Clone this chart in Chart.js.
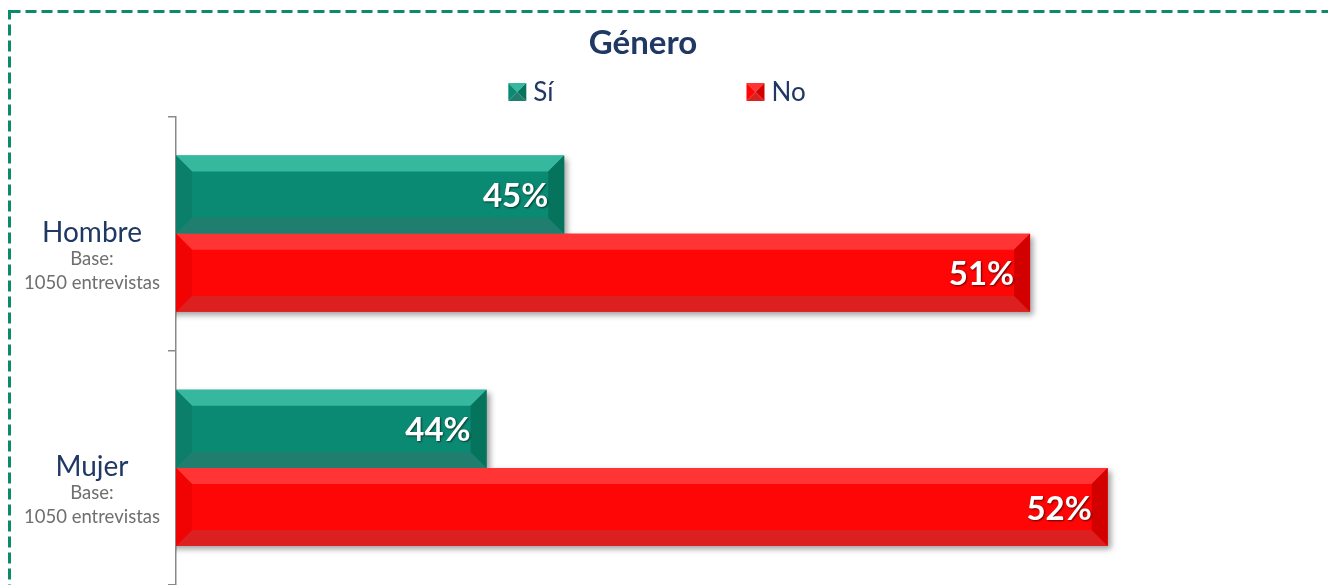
<!DOCTYPE html>
<html>
<head>
<meta charset="utf-8">
<script src="https://cdn.jsdelivr.net/npm/chart.js@4.4.0/dist/chart.umd.min.js"></script>
<style>
  html, body { margin: 0; padding: 0; background: #fff; overflow: hidden; }
  #marco { position: absolute; left: 0; top: 0; width: 1360px; height: 620px; }
</style>
</head>
<body>
<div id="marco"><canvas id="grafica" width="1360" height="620"></canvas></div>
<script>
  // datos
  const titulo = 'Género';
  const categorias = ['Hombre', 'Mujer'];
  const bases = ['1050 entrevistas', '1050 entrevistas'];
  const series = ['Sí', 'No'];
  const valoresSi = [45, 44];
  const valoresNo = [51, 52];

  const fuente = 'Lato, "Open Sans", sans-serif';
  const azul = '#1f3864';

  // colores del bisel (arriba, centro, abajo, izquierda, derecha)
  const biselVerde = { top: '#36b89f', mid: '#0b8a73', bottom: '#1f7e6d', left: '#0b7f69', right: '#06735c' };
  const biselRojo = { top: '#ff3434', mid: '#ff0606', bottom: '#dc1f1f', left: '#f20303', right: '#d30000' };

  function poly(ctx, pts, color) {
    ctx.beginPath();
    ctx.moveTo(pts[0][0], pts[0][1]);
    for (let i = 1; i < pts.length; i++) ctx.lineTo(pts[i][0], pts[i][1]);
    ctx.closePath();
    ctx.fillStyle = color;
    ctx.fill();
  }

  // marco punteado verde
  const marcoPlugin = {
    id: 'marco',
    beforeDraw(chart) {
      const ctx = chart.ctx;
      ctx.save();
      ctx.strokeStyle = '#0d8a6c';
      ctx.lineWidth = 3;
      ctx.setLineDash([11, 5]);
      ctx.strokeRect(9.5, 11.5, 1340, 640);
      ctx.restore();
    }
  };

  // sombra de las barras
  const sombraPlugin = {
    id: 'sombra',
    beforeDatasetDraw(chart) {
      const ctx = chart.ctx;
      ctx.save();
      ctx.shadowColor = 'rgba(0,0,0,0.38)';
      ctx.shadowBlur = 6;
      ctx.shadowOffsetX = 3;
      ctx.shadowOffsetY = 3;
    },
    afterDatasetDraw(chart) {
      chart.ctx.restore();
    }
  };

  // bisel + etiquetas de porcentaje
  const biselPlugin = {
    id: 'bisel',
    afterDatasetsDraw(chart) {
      const ctx = chart.ctx;
      const area = chart.chartArea;
      const b = 16;
      chart.data.datasets.forEach((ds, di) => {
        const c = ds.bisel;
        chart.getDatasetMeta(di).data.forEach((bar, i) => {
          const x0 = Math.max(bar.base, area.left), x1 = bar.x;
          const y0 = bar.y - bar.height / 2, y1 = bar.y + bar.height / 2;
          ctx.save();
          poly(ctx, [[x0, y0], [x1, y0], [x1 - b, y0 + b], [x0 + b, y0 + b]], c.top);
          poly(ctx, [[x0, y1], [x1, y1], [x1 - b, y1 - b], [x0 + b, y1 - b]], c.bottom);
          poly(ctx, [[x0, y0], [x0 + b, y0 + b], [x0 + b, y1 - b], [x0, y1]], c.left);
          poly(ctx, [[x1, y0], [x1 - b, y0 + b], [x1 - b, y1 - b], [x1, y1]], c.right);

          ctx.font = 'bold 33px ' + fuente;
          ctx.fillStyle = '#ffffff';
          ctx.textAlign = 'right';
          ctx.textBaseline = 'middle';
          ctx.shadowColor = 'rgba(0,0,0,0.6)';
          ctx.shadowBlur = 2;
          ctx.shadowOffsetX = 1;
          ctx.shadowOffsetY = 1;
          ctx.fillText(ds.data[i] + '%', x1 - b, bar.y + 2);
          ctx.restore();
        });
      });
    }
  };

  // leyenda con cuadros en piramide
  const leyendaPlugin = {
    id: 'leyenda',
    afterDraw(chart) {
      const ctx = chart.ctx;
      const centro = 657, y = 92, lado = 18, hueco = 193;
      ctx.save();
      ctx.font = '26px ' + fuente;
      const anchos = chart.data.datasets.map(ds => lado + 7 + ctx.measureText(ds.label).width);
      let x = centro - (anchos[0] + hueco + anchos[1]) / 2;
      chart.data.datasets.forEach((ds, di) => {
        const c = ds.bisel;
        const bx = x, by = y - lado / 2, m = lado / 2;
        poly(ctx, [[bx, by], [bx + lado, by], [bx + m, by + m]], c.top);
        poly(ctx, [[bx, by], [bx + m, by + m], [bx, by + lado]], c.mid);
        poly(ctx, [[bx + lado, by], [bx + lado, by + lado], [bx + m, by + m]], c.right);
        poly(ctx, [[bx, by + lado], [bx + lado, by + lado], [bx + m, by + m]], c.bottom);
        ctx.fillStyle = azul;
        ctx.textAlign = 'left';
        ctx.textBaseline = 'middle';
        ctx.fillText(ds.label, bx + lado + 7, y + 1);
        x += anchos[di] + hueco;
      });
      ctx.restore();
    }
  };

  // etiquetas de categoria con la base
  const etiquetasPlugin = {
    id: 'etiquetas',
    afterDraw(chart) {
      const ctx = chart.ctx;
      const esc = chart.scales.y;
      ctx.save();
      ctx.textAlign = 'center';
      ctx.textBaseline = 'middle';
      categorias.forEach((cat, i) => {
        const y = esc.getPixelForValue(i);
        ctx.font = '28px ' + fuente;
        ctx.fillStyle = azul;
        ctx.fillText(cat, 92, y - 1);
        ctx.font = '18.5px ' + fuente;
        ctx.fillStyle = '#6f6f6f';
        ctx.fillText('Base:', 92, y + 25);
        ctx.fillText(bases[i], 92, y + 49);
      });
      ctx.restore();
    }
  };

  const ctx = document.getElementById('grafica').getContext('2d');
  window.miGrafica = new Chart(ctx, {
    type: 'bar',
    data: {
      labels: categorias,
      datasets: [
        {
          label: series[0],
          data: valoresSi,
          backgroundColor: biselVerde.mid,
          bisel: biselVerde,
          categoryPercentage: 0.667,
          barPercentage: 1.0
        },
        {
          label: series[1],
          data: valoresNo,
          backgroundColor: biselRojo.mid,
          bisel: biselRojo,
          categoryPercentage: 0.667,
          barPercentage: 1.0
        }
      ]
    },
    options: {
      indexAxis: 'y',
      responsive: false,
      animation: false,
      layout: { padding: { left: 23, right: 97, top: 0, bottom: 35 } },
      plugins: {
        legend: { display: false },
        tooltip: { enabled: false },
        title: {
          display: true,
          text: titulo,
          color: azul,
          font: { family: fuente, size: 33, weight: 'bold' },
          padding: { top: 24, bottom: 53 }
        }
      },
      scales: {
        x: {
          display: false,
          min: 40,
          max: 54
        },
        y: {
          afterFit(scale) { scale.width = 153; },
          ticks: { display: false },
          grid: {
            offset: true,
            drawOnChartArea: false,
            drawTicks: true,
            tickLength: 8,
            color: '#8a8a8a',
            lineWidth: 1.5
          },
          border: { display: true, color: '#8a8a8a', width: 1.5 }
        }
      }
    },
    plugins: [marcoPlugin, sombraPlugin, biselPlugin, leyendaPlugin, etiquetasPlugin]
  });
</script>
</body>
</html>
